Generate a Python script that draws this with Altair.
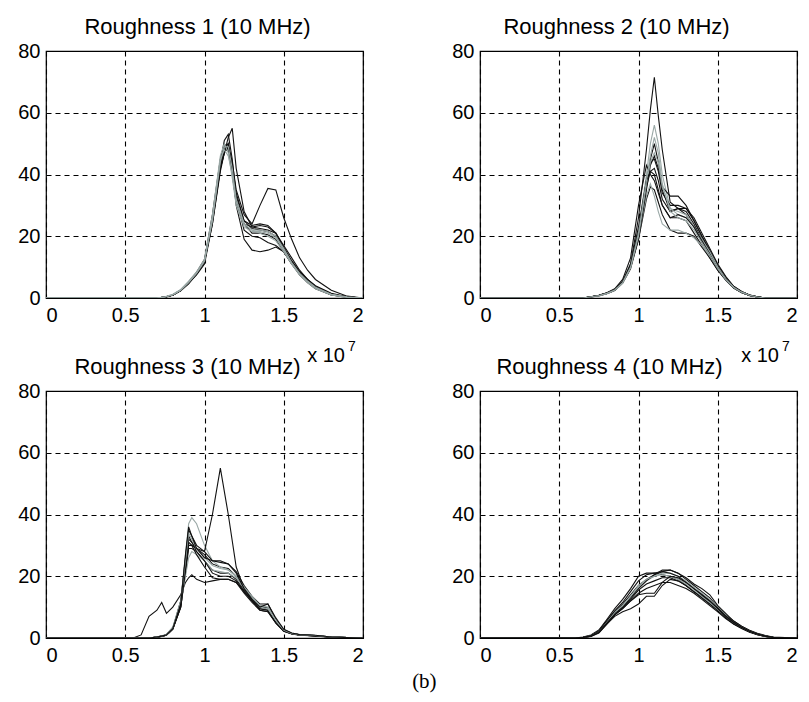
import altair as alt
import pandas as pd

# ---------------- data (x in units of 1e7) ----------------
X1 = [0, 0.7, 0.75, 0.8, 0.85, 0.9, 0.95, 1.0, 1.05, 1.1, 1.125, 1.15, 1.175, 1.2,
      1.25, 1.3, 1.35, 1.4, 1.45, 1.5, 1.55, 1.6, 1.65, 1.7, 1.8, 1.9, 2.0]
P1_TONES = ["k", "k", "k", "k", "k", "k", "k", "k", "g", "g", "g"]
P1 = [
    [0, 0, 0.3, 1, 2.5, 5, 8, 12, 26, 44, 49, 50, 43, 34, 25, 22.5, 22, 21.5, 20, 16, 12, 8.5, 6, 3.5, 1.2, 0.3, 0],
    [0, 0, 0.3, 1, 2.4, 4.8, 7.5, 11, 24, 41, 47, 52, 55, 42, 28, 23, 22.5, 22, 21, 17, 13, 9, 6, 4, 1.5, 0.4, 0],
    [0, 0, 0.2, 0.9, 2.3, 4.6, 7.8, 12, 25, 42, 47, 49, 44, 35, 27, 24, 30, 35.5, 35, 26, 19, 13, 9, 6, 2.5, 0.6, 0],
    [0, 0, 0.3, 1, 2.6, 5, 8, 12, 25, 43, 48, 50, 42, 30, 19, 15.5, 15, 15.5, 16.5, 15, 11, 8, 5.5, 3.5, 1.2, 0.3, 0],
    [0, 0, 0.3, 1, 2.5, 5, 8, 12, 24, 42, 47, 49, 43, 32, 22, 20, 19.5, 18, 17, 15, 11.5, 8, 5.5, 3.5, 1.2, 0.3, 0],
    [0, 0, 0.3, 1, 2.5, 5.2, 8.3, 12.5, 27, 45, 50, 48, 40, 31, 24, 23, 23.5, 23, 21, 16, 11.5, 8, 5.5, 3.2, 1, 0.3, 0],
    [0, 0, 0.3, 1, 2.4, 4.9, 8, 11.5, 25, 44, 51, 53, 45, 33, 25, 23.5, 24, 23.5, 21, 16.5, 12, 8.5, 6, 3.8, 1.3, 0.3, 0],
    [0, 0, 0.3, 1, 2.5, 5, 8, 12, 26, 43, 48, 48, 41, 31, 24, 21, 21, 20.5, 19, 15, 11, 7.5, 5, 3, 1, 0.2, 0],
    [0, 0, 0.4, 1.2, 2.8, 5.5, 8.5, 12.5, 27, 46, 50, 47, 39, 30, 23, 21.5, 21.5, 21, 19.5, 15.5, 11, 7.8, 5.3, 3.3, 1.1, 0.3, 0],
    [0, 0, 0.3, 1.1, 2.6, 5.2, 8.2, 12, 25, 44, 49, 49, 42, 32, 24, 22, 22, 21.5, 20, 16, 11.5, 8, 5.5, 3.5, 1.2, 0.3, 0],
    [0, 0, 0.3, 1, 2.5, 5, 8, 12, 26, 45, 48, 46, 40, 31, 24, 22, 21, 20, 18.5, 15, 11, 7.5, 5, 3, 1, 0.2, 0],
]

X2 = [0, 0.65, 0.7, 0.75, 0.8, 0.85, 0.9, 0.95, 1.0, 1.05, 1.075, 1.1, 1.125, 1.15,
      1.2, 1.25, 1.3, 1.35, 1.4, 1.45, 1.5, 1.55, 1.6, 1.65, 1.7, 1.75, 1.8, 2.0]
P2_TONES = ["k", "g", "k", "k", "k", "g", "k", "k", "k", "g", "k", "g"]
P2 = [
    [0, 0, 0.4, 0.8, 1.5, 2.6, 5.2, 11, 26, 48, 61, 71.5, 59, 48, 31, 29, 27, 23, 18, 14, 9.5, 6, 3.3, 1.8, 0.8, 0.3, 0, 0],
    [0, 0, 0.4, 0.9, 1.6, 2.8, 5.5, 11, 22, 40, 50, 56, 50, 40, 29, 28, 27, 23, 19, 15, 10, 6.5, 3.6, 2, 1, 0.4, 0, 0],
    [0, 0, 0.3, 0.8, 1.5, 2.5, 5, 10, 20, 37, 45, 50, 44, 35, 28, 29, 28, 24, 19, 14.5, 9.8, 6.2, 3.4, 1.9, 0.9, 0.3, 0, 0],
    [0, 0, 0.4, 0.9, 1.7, 3, 6, 13, 30, 43, 40, 38, 34, 30, 26, 26, 25, 21, 17, 13, 9, 5.8, 3.2, 1.8, 0.8, 0.3, 0, 0],
    [0, 0, 0.3, 0.7, 1.4, 2.4, 4.8, 9.5, 19, 32, 36, 35, 31, 27, 22, 21, 21, 20, 16.5, 13, 9, 6, 3.3, 1.8, 0.8, 0.3, 0, 0],
    [0, 0, 0.4, 0.8, 1.5, 2.6, 5, 10, 20, 33, 37, 33, 28, 24, 22, 22, 21, 19.5, 17, 13.5, 9.5, 6, 3.3, 1.8, 0.8, 0.3, 0, 0],
    [0, 0, 0.3, 0.8, 1.5, 2.5, 5, 10, 19, 35, 43, 46, 42, 36, 33, 33, 30, 25, 20, 15, 10, 6.5, 3.5, 2, 1, 0.4, 0, 0],
    [0, 0, 0.4, 0.8, 1.6, 2.6, 5.2, 10.5, 21, 38, 44, 45, 41, 34, 30, 30, 29, 25, 20, 15.5, 10.5, 6.8, 3.8, 2.1, 1, 0.4, 0, 0],
    [0, 0, 0.4, 0.8, 1.5, 2.5, 5, 10, 21, 36, 41, 42, 38, 32, 28, 29, 29, 26, 21, 16, 11, 7, 3.8, 2.1, 1, 0.4, 0, 0],
    [0, 0, 0.3, 0.7, 1.4, 2.4, 4.8, 9.8, 20, 37, 44, 47, 44, 36, 29, 27, 26, 23, 19, 15, 10, 6.3, 3.5, 1.9, 0.9, 0.3, 0, 0],
    [0, 0, 0.4, 0.9, 1.6, 2.7, 5.3, 11, 23, 38, 41, 40, 35, 30, 26, 27, 26, 23, 18.5, 14, 9.5, 6, 3.3, 1.8, 0.8, 0.3, 0, 0],
    [0, 0, 0.4, 0.8, 1.5, 2.6, 5, 10, 21, 38, 46, 52, 47, 37, 28, 26, 25, 22, 18, 14, 9.6, 6, 3.4, 1.9, 0.9, 0.3, 0, 0],
]

X3 = [0, 0.55, 0.6, 0.65, 0.7, 0.73, 0.76, 0.8, 0.85, 0.88, 0.9, 0.92, 0.95, 1.0, 1.05,
      1.1, 1.15, 1.2, 1.25, 1.3, 1.35, 1.4, 1.45, 1.5, 1.55, 1.6, 1.7, 1.8, 2.0]
P3_TONES = ["k", "g", "k", "k", "k", "k", "g", "k", "k", "g", "k"]
P3 = [
    [0, 0, 0, 0, 0.3, 0.6, 1, 3, 11, 24, 33, 31, 29, 27, 24, 23, 22.5, 20, 16, 13, 10, 9.5, 5.5, 2.5, 1.5, 1, 0.8, 0.3, 0],
    [0, 0, 0, 0, 0.3, 0.6, 1.1, 3.5, 12, 27, 37, 39, 37, 30, 25, 23, 22, 20, 16.5, 13, 10.5, 10, 6, 2.8, 1.6, 1.1, 0.8, 0.3, 0],
    [0, 0, 1, 7, 9, 11.5, 8, 10, 14, 18, 19.5, 20.5, 19, 18, 18.5, 19, 19, 18, 15, 12, 9.5, 9, 5, 2.2, 1.4, 1, 0.7, 0.3, 0],
    [0, 0, 0, 0, 0.2, 0.5, 1, 3, 10, 22, 30, 30, 29, 28, 40, 55, 40, 23, 16, 13, 10, 9.8, 5.8, 2.6, 1.5, 1, 0.8, 0.3, 0],
    [0, 0, 0, 0, 0.3, 0.6, 1, 3, 12, 26, 35, 33, 30, 28, 25, 24.5, 24, 21.5, 17, 13.5, 11, 11, 6, 2.6, 1.5, 1, 0.8, 0.3, 0],
    [0, 0, 0, 0, 0.3, 0.5, 0.9, 2.8, 10, 21, 29, 29, 28, 25, 22, 21, 21, 19, 15.5, 12.5, 9.5, 9, 5, 2.3, 1.4, 1, 0.7, 0.3, 0],
    [0, 0, 0, 0, 0.4, 0.7, 1.2, 3.5, 11, 20, 26, 28, 27, 25, 22, 21.5, 21, 19.5, 16, 13, 10, 9.5, 5.5, 2.5, 1.5, 1, 0.8, 0.3, 0],
    [0, 0, 0, 0, 0.3, 0.6, 1, 3, 11, 23, 32, 31, 28, 25, 21, 20, 20, 18.5, 15, 12, 9, 8.5, 5, 2.3, 1.4, 1, 0.7, 0.3, 0],
    [0, 0, 0, 0, 0.3, 0.6, 1, 3, 10, 22, 31, 30, 27, 23, 19.5, 19, 19, 18, 14.5, 11.5, 9, 8.5, 4.8, 2.2, 1.3, 0.9, 0.7, 0.2, 0],
    [0, 0, 0, 0, 0.3, 0.6, 1, 3.2, 12, 25, 34, 32, 29, 26, 23.5, 22.5, 22, 20, 16.5, 13.5, 10.5, 10, 5.8, 2.6, 1.5, 1, 0.8, 0.3, 0],
    [0, 0, 0, 0, 0.3, 0.6, 1, 3, 11, 27, 36, 33, 29, 26, 25, 25, 24, 21, 16, 12.5, 10, 11, 6.5, 2.8, 1.6, 1.1, 0.9, 0.3, 0],
]

X4 = [0, 0.6, 0.65, 0.7, 0.75, 0.8, 0.85, 0.9, 0.95, 1.0, 1.05, 1.1, 1.15, 1.2, 1.25,
      1.3, 1.35, 1.4, 1.45, 1.5, 1.55, 1.6, 1.65, 1.7, 1.75, 1.8, 1.85, 2.0]
P4_TONES = ["k", "k", "k", "k", "g", "k", "k", "g", "k", "k"]
P4 = [
    [0, 0, 0.2, 0.8, 2.3, 5.5, 8.5, 11, 14, 17, 19, 20.5, 21.5, 22, 21, 19, 17, 15, 13, 10, 7.5, 5.5, 3.8, 2.4, 1.4, 0.7, 0.2, 0],
    [0, 0, 0.3, 1, 2.6, 6, 9.5, 12.5, 16, 20, 21, 21, 20.5, 20, 19, 17, 15, 13, 11, 9, 6.5, 4.5, 3.2, 2, 1.1, 0.5, 0.2, 0],
    [0, 0, 0.2, 0.6, 1.8, 4.5, 7, 8.5, 9.5, 11, 13.5, 13.5, 17, 19, 18.5, 17, 15, 13.5, 11.5, 9, 6.8, 4.8, 3.4, 2.1, 1.2, 0.6, 0.2, 0],
    [0, 0, 0.2, 0.7, 2, 5, 7.5, 9.5, 12, 14.5, 16, 17, 18, 18, 17, 16, 14.5, 12.5, 10.5, 8.5, 6.3, 4.5, 3.1, 1.9, 1.1, 0.5, 0.1, 0],
    [0, 0, 0.2, 0.7, 2.1, 5.2, 8, 10.5, 13.5, 16.5, 18.5, 20, 21, 21, 20, 18.5, 16.5, 14.5, 12.5, 10, 7.5, 5.2, 3.6, 2.3, 1.3, 0.6, 0.2, 0],
    [0, 0, 0.1, 0.5, 1.6, 4.5, 7.5, 10, 13, 16, 18.5, 20.5, 22, 22, 21, 19.5, 17.5, 16, 14, 10.5, 8, 5.5, 3.8, 2.5, 1.5, 0.8, 0.3, 0],
    [0, 0, 0.2, 0.7, 2, 5, 8, 10, 12.5, 15.5, 17.5, 18.5, 19.5, 19.5, 18.5, 17, 15, 13, 11, 9, 6.8, 4.8, 3.3, 2, 1.2, 0.5, 0.1, 0],
    [0, 0, 0.2, 0.8, 2.2, 5.3, 8.3, 10.5, 13.5, 17, 19, 20, 20.5, 20, 19, 17.5, 15.5, 13.5, 11.5, 9.3, 7, 5, 3.5, 2.2, 1.3, 0.6, 0.2, 0],
    [0, 0, 0.2, 0.6, 1.9, 4.8, 7.5, 9.5, 12, 14, 14.5, 14.5, 18, 20, 19.5, 18, 16, 14, 12, 9.7, 7.2, 5.1, 3.5, 2.2, 1.3, 0.6, 0.2, 0],
    [0, 0, 0.2, 0.8, 2.3, 5.6, 8.8, 11.5, 15, 18.5, 20.5, 21, 21.5, 21, 20, 18, 16, 14, 12, 9.5, 7, 5, 3.5, 2.2, 1.3, 0.6, 0.2, 0],
]

TITLES = ["Roughness 1 (10 MHz)", "Roughness 2 (10 MHz)",
          "Roughness 3 (10 MHz)", "Roughness 4 (10 MHz)"]
X_TICKS = [0, 0.5, 1, 1.5, 2]
Y_TICKS = [0, 20, 40, 60, 80]

FONT = "Liberation Sans"
W, H = 317, 247


def long_table(xs, lines, tones):
    rows = []
    for i, (tone, ys) in enumerate(zip(tones, lines)):
        for x, y in zip(xs, ys):
            rows.append({"x": x, "y": y, "line": f"L{i:02d}", "tone": tone})
    return pd.DataFrame(rows)


def panel(xs, lines, tones, title, dx, exponent):
    df = long_table(xs, lines, tones)
    base = alt.Chart(df).mark_line(strokeWidth=1.1, clip=True).encode(
        x=alt.X("x:Q", scale=alt.Scale(domain=[0, 2], nice=False, zero=False),
                axis=alt.Axis(values=X_TICKS, format="~g", title=None)),
        y=alt.Y("y:Q", scale=alt.Scale(domain=[0, 80], nice=False),
                axis=alt.Axis(values=Y_TICKS, title=None)),
        color=alt.Color("tone:N", scale=alt.Scale(domain=["k", "g"], range=["#111111", "#9aa8a6"]),
                        legend=None),
        detail="line:N",
    )
    layers = [base]
    if exponent:
        t1 = alt.Chart(alt.Data(values=[{"t": "x 10"}])).mark_text(
            font=FONT, fontSize=20, align="right", baseline="alphabetic", color="black"
        ).encode(text="t:N", x=alt.value(299), y=alt.value(311))
        t2 = alt.Chart(alt.Data(values=[{"t": "7"}])).mark_text(
            font=FONT, fontSize=14, align="left", baseline="alphabetic", color="black"
        ).encode(text="t:N", x=alt.value(302), y=alt.value(300))
        layers += [t1, t2]
    return alt.layer(*layers).properties(
        width=W, height=H,
        title=alt.TitleParams(title, font=FONT, fontSize=22, fontWeight="normal", color="black",
                              anchor="middle", baseline="alphabetic", offset=-15, dx=dx),
    )


p1 = panel(X1, P1, P1_TONES, TITLES[0], -7, True)
p2 = panel(X2, P2, P2_TONES, TITLES[1], -22, True)
p3 = panel(X3, P3, P3_TONES, TITLES[2], -17, False)
p4 = panel(X4, P4, P4_TONES, TITLES[3], -29, False)

chart = alt.concat(p1, p2, p3, p4, columns=2, spacing={"row": 93, "column": 117}, bounds="flush").properties(
    title=alt.TitleParams("(b)", orient="bottom", font="Liberation Serif", fontSize=21,
                          fontWeight="normal", color="black", anchor="middle", offset=5, dx=17),
    padding={"left": 17, "top": 15, "right": 5, "bottom": 5},
    background="white",
).configure_view(
    stroke="black", strokeWidth=1.2
).configure_axis(
    grid=True, gridColor="black", gridDash=[5, 4], gridWidth=1.1, gridOpacity=1,
    domain=False, ticks=False,
    labelFont=FONT, labelFontSize=20, labelColor="black", labelPadding=6,
).configure_axisX(labelPadding=7)

chart.save("out.html", embed_options={"renderer": "svg", "actions": False})
